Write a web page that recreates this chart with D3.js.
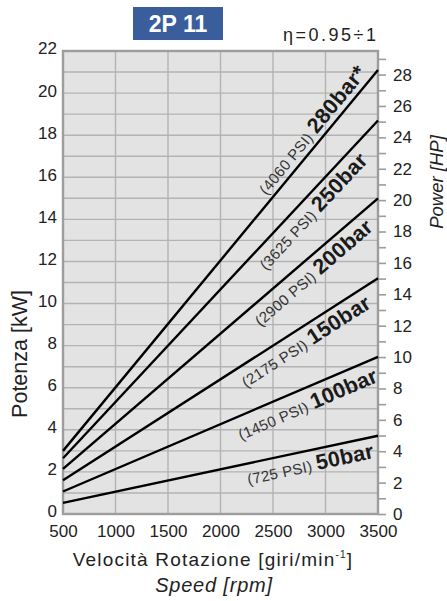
<!DOCTYPE html>
<html><head><meta charset="utf-8">
<script src="https://cdn.jsdelivr.net/npm/d3@7"></script>
<style>
html,body{margin:0;padding:0;background:#fff;}
svg{display:block;font-family:"Liberation Sans",Arial,sans-serif;}
</style></head>
<body>
<svg id="c" width="447" height="601"></svg>
<script>
// ---- data ----
const speedRange = [500, 3500];          // rpm (x extent)
const pressureBar = [50, 100, 150, 200, 250, 280];
const pressurePsi = [725, 1450, 2175, 2900, 3625, 4060];
const powerAt500 = [0.53, 1.07, 1.6, 2.14, 2.65, 3.0];     // kW at 500 rpm
const powerAt3500 = [3.72, 7.47, 11.2, 15.0, 18.7, 21.1];  // kW at 3500 rpm
const xTicks = [500, 1000, 1500, 2000, 2500, 3000, 3500];
const kwTicks = [0, 2, 4, 6, 8, 10, 12, 14, 16, 18, 20, 22];
const hpTicks = [0, 2, 4, 6, 8, 10, 12, 14, 16, 18, 20, 22, 24, 26, 28];
const kwMax = 22;
const kwPerHp = 0.7457;

// ---- label placement (style) ----
const labelStartRpm = [2225, 2110, 2135, 2250, 2290, 2480];
const labelOffset = [21, 23, 21, 21, 21, -6];
const barSuffix = ["", "", "", "", "", "*"];

const svg = d3.select("#c");
const L = 63, R = 378, T = 51, B = 514;
const x = d3.scaleLinear().domain(speedRange).range([L, R]);
const y = d3.scaleLinear().domain([0, kwMax]).range([B, T]);
const yHp = d3.scaleLinear().domain([0, kwMax / kwPerHp]).range([B, T]);

const gridCol = "#b3b3b3", borderCol = "#9d9d9d";
const tickFont = 17;

// background
svg.append("rect").attr("x", L).attr("y", T).attr("width", R - L).attr("height", B - T).attr("fill", "#e3e3e4");

// grid
svg.append("g").selectAll("line").data(d3.range(1, kwMax)).join("line")
  .attr("x1", L).attr("x2", R).attr("y1", d => y(d)).attr("y2", d => y(d))
  .attr("stroke", gridCol).attr("stroke-width", 1.4);
svg.append("g").selectAll("line").data(xTicks.slice(1, -1)).join("line")
  .attr("y1", T).attr("y2", B).attr("x1", d => x(d)).attr("x2", d => x(d))
  .attr("stroke", gridCol).attr("stroke-width", 1.4);

// right HP axis ticks
const hpAxis = d3.axisRight(yHp).tickValues(d3.range(0, 30)).tickSize(8)
  .tickFormat(d => hpTicks.includes(d) ? d : "").tickPadding(7);
const gHp = svg.append("g").attr("transform", `translate(${R},0)`).call(hpAxis);
gHp.select(".domain").remove();
gHp.selectAll(".tick line").attr("stroke", borderCol).attr("stroke-width", 1.6);
gHp.selectAll(".tick text").attr("fill", "#222").attr("font-size", tickFont).attr("font-family", "Liberation Sans, Arial");

// border
svg.append("rect").attr("x", L).attr("y", T).attr("width", R - L).attr("height", B - T)
  .attr("fill", "none").attr("stroke", borderCol).attr("stroke-width", 2.4);

// left kW axis labels
const kwAxis = d3.axisLeft(y).tickValues(kwTicks).tickSize(0).tickPadding(6);
const gKw = svg.append("g").attr("transform", `translate(${L},-2.5)`).call(kwAxis);
gKw.select(".domain").remove();
gKw.selectAll(".tick text").attr("fill", "#222").attr("font-size", tickFont).attr("font-family", "Liberation Sans, Arial");

// bottom axis labels
const xAxis = d3.axisBottom(x).tickValues(xTicks).tickSize(0).tickPadding(10).tickFormat(d3.format("d"));
const gX = svg.append("g").attr("transform", `translate(0,${B + 0.5})`).call(xAxis);
gX.select(".domain").remove();
gX.selectAll(".tick text").attr("fill", "#222").attr("font-size", tickFont).attr("font-family", "Liberation Sans, Arial");

// lines
const series = pressureBar.map((p, i) => ({
  bar: p, psi: pressurePsi[i],
  pts: [[speedRange[0], powerAt500[i]], [speedRange[1], powerAt3500[i]]]
}));
const line = d3.line().x(d => x(d[0])).y(d => y(d[1]));
svg.append("g").selectAll("path").data(series).join("path")
  .attr("d", d => line(d.pts)).attr("fill", "none").attr("stroke", "#000").attr("stroke-width", 2.4);

// line labels
series.forEach((s, i) => {
  const [a, b] = s.pts;
  const x0 = x(a[0]), y0 = y(a[1]), x1 = x(b[0]), y1 = y(b[1]);
  const ang = Math.atan2(y1 - y0, x1 - x0) * 180 / Math.PI;
  const r = labelStartRpm[i];
  const kw = a[1] + (b[1] - a[1]) * (r - a[0]) / (b[0] - a[0]);
  const t = svg.append("text")
    .attr("transform", `translate(${x(r)},${y(kw)}) rotate(${ang})`)
    .attr("y", labelOffset[i]).attr("letter-spacing", 0.3);
  t.append("tspan").attr("font-size", 15).attr("fill", "#333").text(`(${s.psi} PSI) `);
  t.append("tspan").attr("font-size", 21.5).attr("font-weight", "bold").attr("fill", "#1a1a1a").text(`${s.bar}bar${barSuffix[i]}`);
});

// title box
svg.append("rect").attr("x", 133).attr("y", 7).attr("width", 90).attr("height", 33).attr("fill", "#3a5e9c");
svg.append("text").attr("x", 178).attr("y", 32).attr("text-anchor", "middle").attr("fill", "#fff")
  .attr("font-size", 23).attr("font-weight", "bold").text("2P 11");

svg.append("text").attr("x", 283).attr("y", 41).attr("fill", "#222").attr("font-size", 18)
  .attr("letter-spacing", 2.5).text("η=0.95÷1");

// axis titles
svg.append("text").attr("transform", `translate(27,354) rotate(-90)`).attr("text-anchor", "middle")
  .attr("font-size", 21.5).attr("fill", "#222").text("Potenza [kW]");
svg.append("text").attr("transform", `translate(443,${182}) rotate(-90)`).attr("text-anchor", "middle")
  .attr("font-size", 18.5).attr("font-style", "italic").attr("fill", "#222").text("Power [HP]");

const xt = svg.append("text").attr("x", 213).attr("y", 566).attr("text-anchor", "middle")
  .attr("font-size", 19).attr("letter-spacing", 1.2).attr("fill", "#222");
xt.append("tspan").text("Velocità Rotazione [giri/min");
xt.append("tspan").attr("font-size", 10).attr("dy", -8).text("-1");
xt.append("tspan").attr("dy", 8).text("]");
svg.append("text").attr("x", 214).attr("y", 592).attr("text-anchor", "middle")
  .attr("font-size", 20).attr("letter-spacing", 0.8).attr("font-style", "italic").attr("fill", "#222").text("Speed [rpm]");
</script>
</body></html>
